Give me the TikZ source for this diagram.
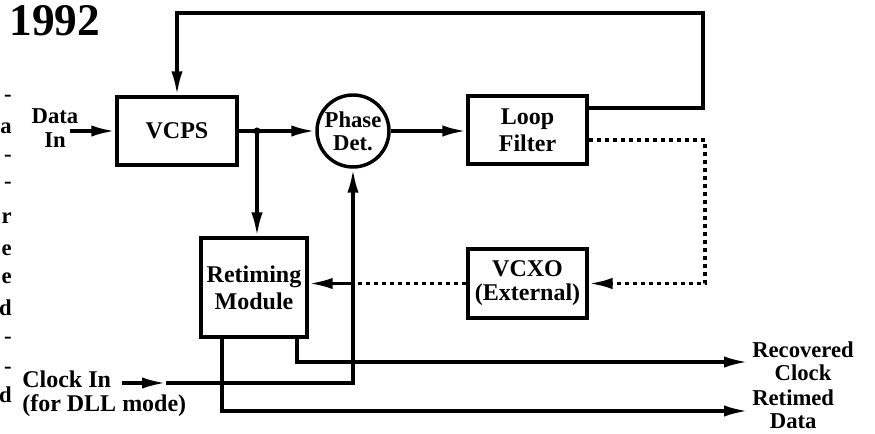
\documentclass[tikz,border=0pt]{standalone}
\usepackage{fontspec}
\setmainfont{Liberation Serif}
\usetikzlibrary{arrows.meta,calc}
\begin{document}
\begin{tikzpicture}[x=0.75pt,y=-0.75pt,
  lw/.style={line width=2.6pt},
  blk/.style={draw,lw,inner sep=0pt,align=center,font=\fontsize{18}{20}\selectfont\bfseries},
  lbl/.style={inner sep=0pt,align=center,font=\fontsize{17}{17.5}\selectfont\bfseries},
  arr/.style={lw,-{Latex[length=18pt,width=8.5pt]}},
  dotl/.style={lw,dash pattern=on 3pt off 3pt}]
\useasboundingbox (0,0) rectangle (875,434);
\fill[white] (0,0) rectangle (875,434);
% title
\node[inner sep=0pt,font=\fontsize{34}{34}\selectfont\bfseries] (yr) at (55,21) {1992};
% fragments of adjacent column
\foreach \yy/\ch [count=\i] in {98/-,128/a,158/-,185/-,218/r,250/e,278/e,308/d,340/-,370/-,395/d}
  \node[anchor=east,inner sep=0pt,font=\fontsize{17}{17}\selectfont\bfseries] (frag\i) at (12,\yy) {\ch};
% blocks
\node[blk,minimum width=90pt,minimum height=51pt] (vcps) at (177,131) {VCPS};
\node[blk,circle,minimum size=54pt,font=\fontsize{17}{17}\selectfont\bfseries] (pd) at (353,131) {Phase\\Det.};
\node[blk,minimum width=89pt,minimum height=51pt] (lf) at (527.5,130) {Loop\\Filter};
\node[blk,minimum width=79.5pt,minimum height=74pt] (rm) at (254,287.5) {Retiming\\Module};
\node[blk,minimum width=89pt,minimum height=52pt,font=\fontsize{18}{18}\selectfont\bfseries] (vcxo) at (527.5,283.5) {VCXO\\(External)};
% labels
\node[lbl] (din) at (55,128) {Data\\In};
\node[lbl,align=left,anchor=west,font=\fontsize{18}{18}\selectfont\bfseries] (cin) at (22,394) {Clock In\\(for DLL mode)};
\node[lbl,anchor=west] (rc) at (752,361) {Recovered\\Clock};
\node[lbl,anchor=west] (rd) at (752,409) {Retimed\\Data};
% coordinates
\coordinate (din0) at (70,131);
\coordinate (j1) at (257,131);
\coordinate (fb1) at (703,108);
\coordinate (fb2) at (703,13);
\coordinate (fb3) at (177,13);
\coordinate (d1) at (705,140);
\coordinate (d2) at (705,283.5);
\coordinate (j2) at (353,283.5);
\coordinate (ck0) at (122,383);
\coordinate (ck1) at (166,383);
\coordinate (ck2) at (353,383);
\coordinate (r1) at (297,362);
\coordinate (r2) at (748,362);
\coordinate (t1) at (222,411);
\coordinate (t2) at (748,411);
% connectors
\draw[arr] (din0) -- (vcps.west |- din0);
\draw[arr] (vcps.east) -- (pd.west);
\fill (j1) circle (3.5);
\draw[arr] (j1) -- (j1 |- rm.north);
\draw[arr] (pd.east) -- (lf.west |- pd.east);
\draw[arr] (lf.east |- fb1) -- (fb1) -- (fb2) -- (fb3) -- (vcps.north);
\draw[dotl,arr] (lf.east |- d1) -- (d1) -- (d2) -- (vcxo.east);
\draw[dotl] (vcxo.west) -- (j2);
\draw[arr] (j2) -- (rm.east |- j2);
\draw[arr] (ck0) -- (ck1);
\draw[arr] (ck1) -- (ck2) -- (pd.south);
\draw[arr] (rm.south -| r1) -- (r1) -- (r2);
\draw[arr] (rm.south -| t1) -- (t1) -- (t2);
\end{tikzpicture}
\end{document}
